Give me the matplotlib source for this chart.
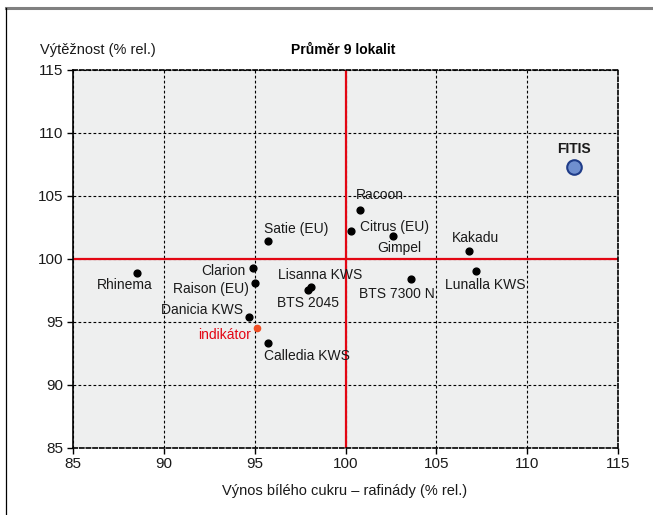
import matplotlib.pyplot as plt
from matplotlib.lines import Line2D

plt.rcParams["font.family"] = ["Liberation Sans", "DejaVu Sans"]

# data (relative %, Průměr 9 lokalit)
varieties = ["Rhinema", "Clarion", "Raison (EU)", "Danicia KWS", "Satie (EU)", "Calledia KWS",
             "Lisanna KWS", "BTS 2045", "Racoon", "Citrus (EU)", "Gimpel", "BTS 7300 N",
             "Kakadu", "Lunalla KWS"]
vynos = [88.5, 94.9, 95.0, 94.7, 95.7, 95.7, 98.1, 97.9, 100.8, 100.3, 102.6, 103.6, 106.8, 107.2]
vyteznost = [98.85, 99.3, 98.1, 95.4, 101.4, 93.3, 97.8, 97.5, 103.9, 102.2, 101.8, 98.4, 100.6, 99.0]

fitis_x, fitis_y = 112.6, 107.3
indikator_x, indikator_y = 95.1, 94.5

# label placement: (dx px, dy px, ha)
label_pos = {
    "Rhinema": (-12, -12, "center"),
    "Clarion": (-8, -3, "right"),
    "Raison (EU)": (-6, -6, "right"),
    "Danicia KWS": (-6, 7, "right"),
    "Satie (EU)": (-4, 12, "left"),
    "Calledia KWS": (-4, -13, "left"),
    "Lisanna KWS": (-33, 12, "left"),
    "BTS 2045": (0, -13, "center"),
    "Racoon": (-4, 15, "left"),
    "Citrus (EU)": (9, 4, "left"),
    "Gimpel": (6, -12, "center"),
    "BTS 7300 N": (-14, -15, "center"),
    "Kakadu": (6, 13, "center"),
    "Lunalla KWS": (9, -14, "center"),
}

fig = plt.figure(figsize=(6.53, 5.15), dpi=100)
ax = fig.add_axes([0.1123, 0.1307, 0.8341, 0.7334])
ax.set_facecolor("#eeefef")

# outer frame: grey top rule, black left rule
fig.add_artist(Line2D([0.009, 1.0], [0.985, 0.985], color="#808080", lw=2.2, transform=fig.transFigure))
fig.add_artist(Line2D([0.0095, 0.0095], [0.0, 0.985], color="black", lw=0.9, transform=fig.transFigure))

ax.set_xlim(85, 115)
ax.set_ylim(85, 115)
ax.set_xticks(range(85, 116, 5))
ax.set_yticks(range(85, 116, 5))
ax.grid(True, color="black", linestyle=(0, (2.5, 2)), linewidth=0.8)
ax.set_axisbelow(True)

for side in ["top", "right", "bottom"]:
    ax.spines[side].set_linestyle((0, (2.5, 1.5)))
    ax.spines[side].set_linewidth(1.2)
ax.spines["left"].set_linewidth(1.2)
ax.tick_params(direction="out", length=4, width=1, labelsize=11, pad=3, labelcolor="#1a1a1a")

ax.axvline(100, color="#e30613", lw=1.6, zorder=2)
ax.axhline(100, color="#e30613", lw=1.6, zorder=2)

ax.scatter(vynos, vyteznost, s=24, color="black", zorder=3)
for name, x, y in zip(varieties, vynos, vyteznost):
    dx, dy, ha = label_pos[name]
    ax.annotate(name, (x, y), xytext=(dx, dy), textcoords="offset pixels",
                ha=ha, va="center", fontsize=10, color="#1a1a1a")

ax.scatter([indikator_x], [indikator_y], s=20, color="#f04e23", zorder=3)
ax.annotate("indikátor", (indikator_x, indikator_y), xytext=(-6, -7), textcoords="offset pixels",
            ha="right", va="center", fontsize=10, color="#e30613")

ax.scatter([fitis_x], [fitis_y], s=110, color="#6f8fcf", edgecolors="#1f3c88", linewidths=1.5, zorder=4)
ax.annotate("FITIS", (fitis_x, fitis_y), xytext=(0, 18), textcoords="offset pixels",
            ha="center", va="center", fontsize=10, fontweight="bold", color="#1a1a1a")

fig.text(40 / 653, 1 - 50 / 515, "Výtěžnost (% rel.)", ha="left", va="center", fontsize=10.5, color="#1a1a1a")
fig.text(343 / 653, 1 - 50 / 515, "Průměr 9 lokalit", ha="center", va="center", fontsize=10, fontweight="bold")
fig.text(345 / 653, 1 - 491 / 515, "Výnos bílého cukru – rafinády (% rel.)", ha="center", va="center",
         fontsize=10.5, color="#1a1a1a")

fig.savefig("out.png", dpi=100)
